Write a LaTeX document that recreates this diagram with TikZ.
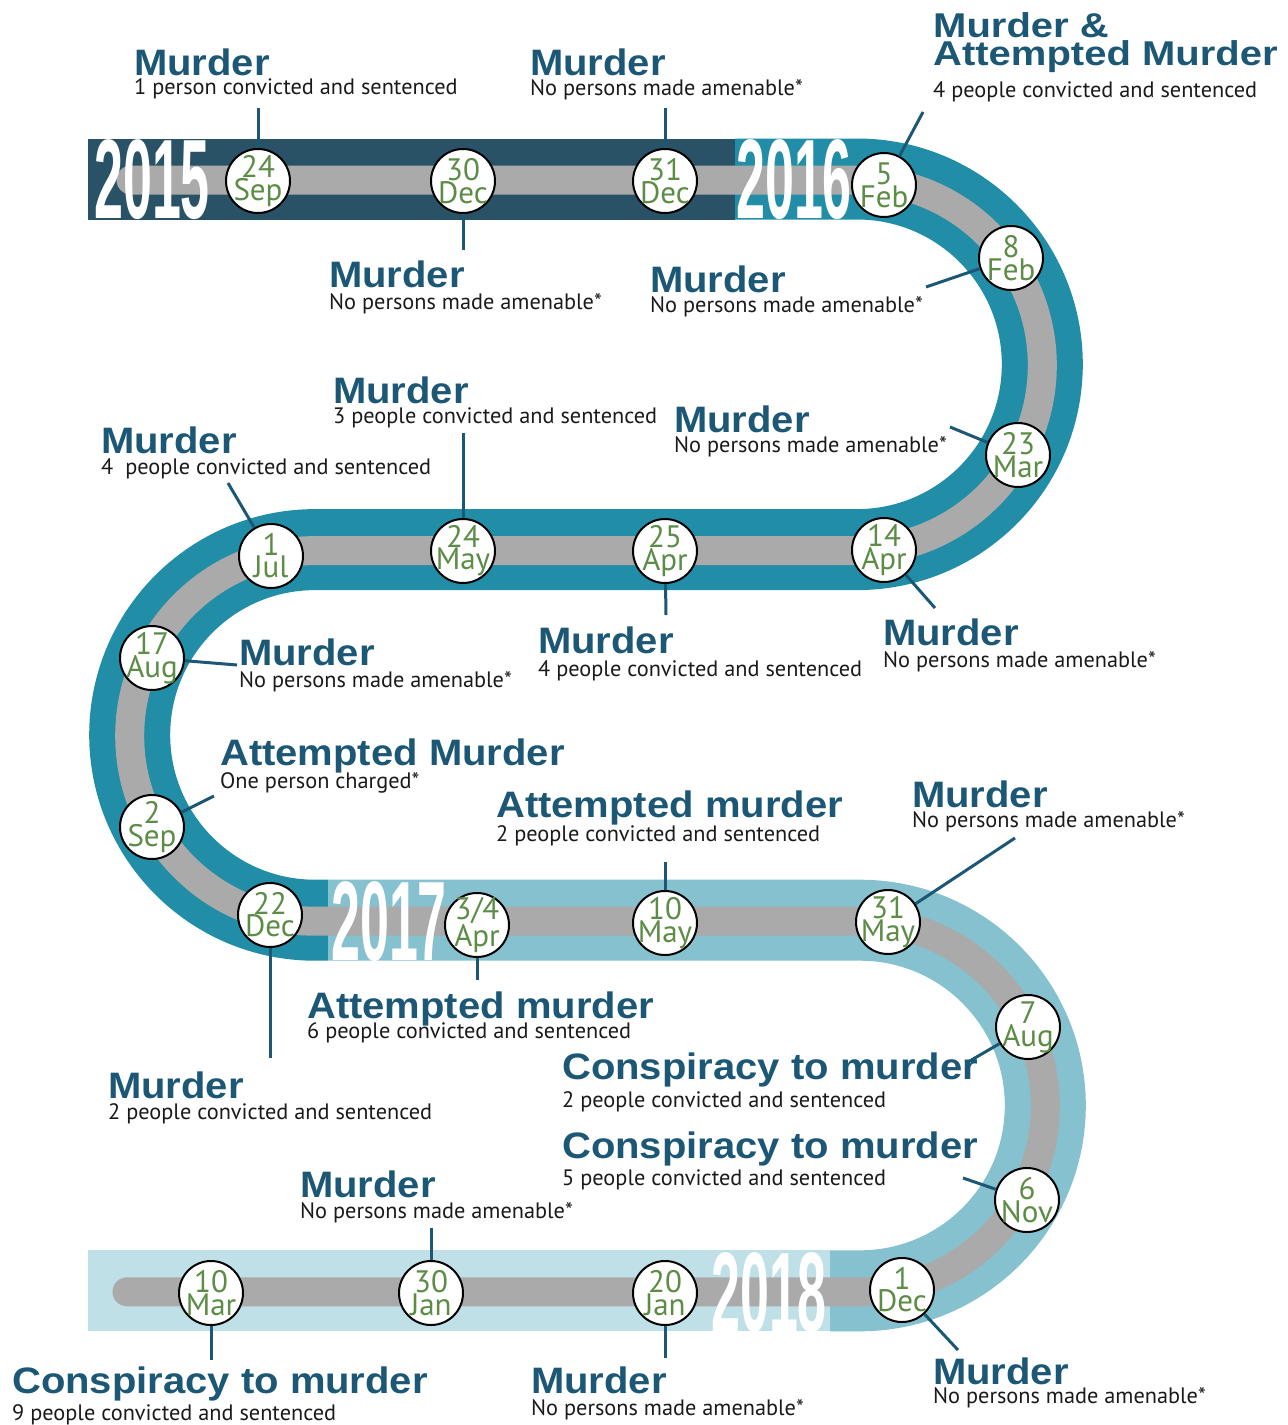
\documentclass[tikz,border=0pt]{standalone}
\usepackage{fontspec}
\setmainfont{PT Sans}
\newfontfamily\titlefont{Liberation Sans}
\newfontfamily\yearfont{Liberation Sans}
\definecolor{cA}{HTML}{295266}
\definecolor{cB}{HTML}{218DA6}
\definecolor{cC}{HTML}{85C1CF}
\definecolor{cD}{HTML}{BFE0E7}
\definecolor{cgray}{HTML}{AAAAAA}
\definecolor{titleblue}{HTML}{1C5875}
\definecolor{dategreen}{HTML}{5C8C46}
\definecolor{subblack}{HTML}{1A1A1A}
\newcommand\Tsq[1]{\scalebox{1}[0.92]{#1}}
\newcommand\Tsqq[1]{\scalebox{1}[0.86]{#1}}
\newcommand\Ysq[1]{\scalebox{0.46}[1]{#1}}
\tikzset{
  band/.style={line width=81pt, line cap=butt},
  grayline/.style={draw=cgray, line width=29pt, line cap=round},
  datec/.style={circle, draw=black, line width=2pt, fill=white, minimum size=64pt, inner sep=0pt},
  datet/.style={text=dategreen, font=\fontsize{31}{22}\selectfont, align=center, inner sep=0pt},
  conn/.style={draw=titleblue, line width=3pt},
  ttl/.style={anchor=base west, inner sep=0pt, text=titleblue, font=\titlefont\bfseries\fontsize{40}{40}\selectfont},
  sub/.style={anchor=base west, inner sep=0pt, text=subblack, font=\fontsize{22.3}{23}\selectfont},
  yr/.style={anchor=base west, inner sep=0pt, text=white, font=\yearfont\bfseries\fontsize{113}{113}\selectfont},
}
\newcommand\dnode[4]{\node[datec] (#1) at (#2) {}; \node[datet] (#1t) at (#1) {#3\\#4};}
\begin{document}
\begin{tikzpicture}[x=1pt,y=-1pt]
\useasboundingbox (0,0) rectangle (1288,1425);
% bands
\draw[band, cA] (88,179) -- (735,179);
\draw[band, cB] (735,179) -- (857,179) arc[start angle=90, end angle=-90, radius=185.3pt]
  -- (315,549.6) arc[start angle=90, end angle=270, radius=185.3pt] -- (328,920.2);
\draw[band, cC] (328,920.2) -- (860,920.2) arc[start angle=90, end angle=-90, radius=185.3pt] -- (830,1290.8);
\draw[band, cD] (830,1290.8) -- (88,1290.8);
% gray line
\draw[grayline] (131,180) -- (857,180) arc[start angle=90, end angle=-90, radius=185.3pt]
  -- (315,550.6) arc[start angle=90, end angle=270, radius=185.3pt]
  -- (860,921.2) arc[start angle=90, end angle=-90, radius=185.3pt] -- (127,1291.8);
% years
\node[yr] (y15) at (94,218) {\Ysq{2015}};
\node[yr] (y16) at (736,218) {\Ysq{2016}};
\node[yr] (y17) at (331,960) {\Ysq{2017}};
\node[yr] (y18) at (711,1331) {\Ysq{2018}};
% date circles
\dnode{d1}{258,181}{24}{Sep}
\dnode{d2}{463,181}{30}{Dec}
\dnode{d3}{665,181}{31}{Dec}
\dnode{d4}{884,185}{5}{Feb}
\dnode{d5}{1011,258}{8}{Feb}
\dnode{d6}{1018,455}{23}{Mar}
\dnode{d7}{884,550}{14}{Apr}
\dnode{d8}{665,551}{25}{Apr}
\dnode{d9}{463,551}{24}{May}
\dnode{d10}{271,556}{1}{Jul}
\dnode{d11}{152,658}{17}{Aug}
\dnode{d12}{152,827}{2}{Sep}
\dnode{d13}{270,915}{22}{Dec}
\dnode{d14}{477,925}{3/4}{Apr}
\dnode{d15}{665,923}{10}{May}
\dnode{d16}{888,922}{31}{May}
\dnode{d17}{1028,1027}{7}{Aug}
\dnode{d18}{1027,1200}{6}{Nov}
\dnode{d19}{902,1290}{1}{Dec}
\dnode{d20}{665,1293}{20}{Jan}
\dnode{d21}{431,1293}{30}{Jan}
\dnode{d22}{211,1293}{10}{Mar}
% connector ends
\coordinate (e1) at (258,108);
\coordinate (e2) at (463,250);
\coordinate (e3) at (665,108);
\coordinate (e4) at (923,112);
\coordinate (e5) at (926,287);
\coordinate (e6) at (950,427);
\coordinate (e7) at (935,608);
\coordinate (e8) at (666,615);
\coordinate (e9) at (463,433);
\coordinate (e10) at (228,483);
\coordinate (e11) at (237,665);
\coordinate (e12) at (214,796);
\coordinate (e13) at (270,1058);
\coordinate (e14) at (477,980);
\coordinate (e15) at (665,862);
\coordinate (e16) at (1015,838);
\coordinate (e17) at (968,1062);
\coordinate (e18) at (963,1178);
\coordinate (e19) at (958,1350);
\coordinate (e20) at (665,1358);
\coordinate (e21) at (431,1228);
\coordinate (e22) at (211,1360);
\foreach \i in {1,...,22} {\draw[conn] (d\i) -- (e\i);}
% labels
\node[ttl] (t1) at (134,75) {\Tsq{Murder}};
\node[sub] (s1) at (134,94) {1 person convicted and sentenced};
\node[ttl] (t3) at (530,75) {\Tsq{Murder}};
\node[sub] (s3) at (530,95) {No persons made amenable*};
\node[ttl] (t4a) at (933,37) {\Tsqq{Murder \&}};
\node[ttl] (t4b) at (933,65) {\Tsqq{Attempted Murder}};
\node[sub] (s4) at (933,97) {4 people convicted and sentenced};
\node[ttl] (t2) at (329,287) {\Tsq{Murder}};
\node[sub] (s2) at (329,309) {No persons made amenable*};
\node[ttl] (t5) at (650,292) {\Tsq{Murder}};
\node[sub] (s5) at (650,312) {No persons made amenable*};
\node[ttl] (t9) at (333,403) {\Tsq{Murder}};
\node[sub] (s9) at (333,423) {3 people convicted and sentenced};
\node[ttl] (t10) at (101,453) {\Tsq{Murder}};
\node[sub] (s10) at (101,474) {4\ \ people convicted and sentenced};
\node[ttl] (t6) at (674,432) {\Tsq{Murder}};
\node[sub] (s6) at (674,452) {No persons made amenable*};
\node[ttl] (t8) at (538,653) {\Tsq{Murder}};
\node[sub] (s8) at (538,676) {4 people convicted and sentenced};
\node[ttl] (t7) at (883,645) {\Tsq{Murder}};
\node[sub] (s7) at (883,667) {No persons made amenable*};
\node[ttl] (t11) at (239,665) {\Tsq{Murder}};
\node[sub] (s11) at (239,687) {No persons made amenable*};
\node[ttl] (t12) at (220,765) {\Tsq{Attempted Murder}};
\node[sub] (s12) at (220,788) {One person charged*};
\node[ttl] (t15) at (496,817) {\Tsq{Attempted murder}};
\node[sub] (s15) at (496,841) {2 people convicted and sentenced};
\node[ttl] (t16) at (912,807) {\Tsq{Murder}};
\node[sub] (s16) at (912,827) {No persons made amenable*};
\node[ttl] (t14) at (307,1018) {\Tsq{Attempted murder}};
\node[sub] (s14) at (307,1038) {6 people convicted and sentenced};
\node[ttl] (t13) at (108,1098) {\Tsq{Murder}};
\node[sub] (s13) at (108,1119) {2 people convicted and sentenced};
\node[ttl] (t17) at (562,1079) {\Tsq{Conspiracy to murder}};
\node[sub] (s17) at (562,1107) {2 people convicted and sentenced};
\node[ttl] (t18) at (562,1158) {\Tsq{Conspiracy to murder}};
\node[sub] (s18) at (562,1185) {5 people convicted and sentenced};
\node[ttl] (t21) at (300,1197) {\Tsq{Murder}};
\node[sub] (s21) at (300,1218) {No persons made amenable*};
\node[ttl] (t22) at (12,1393) {\Tsq{Conspiracy to murder}};
\node[sub] (s22) at (12,1420) {9 people convicted and sentenced};
\node[ttl] (t20) at (531,1393) {\Tsq{Murder}};
\node[sub] (s20) at (531,1415) {No persons made amenable*};
\node[ttl] (t19) at (933,1384) {\Tsq{Murder}};
\node[sub] (s19) at (933,1403) {No persons made amenable*};
\end{tikzpicture}
\end{document}
